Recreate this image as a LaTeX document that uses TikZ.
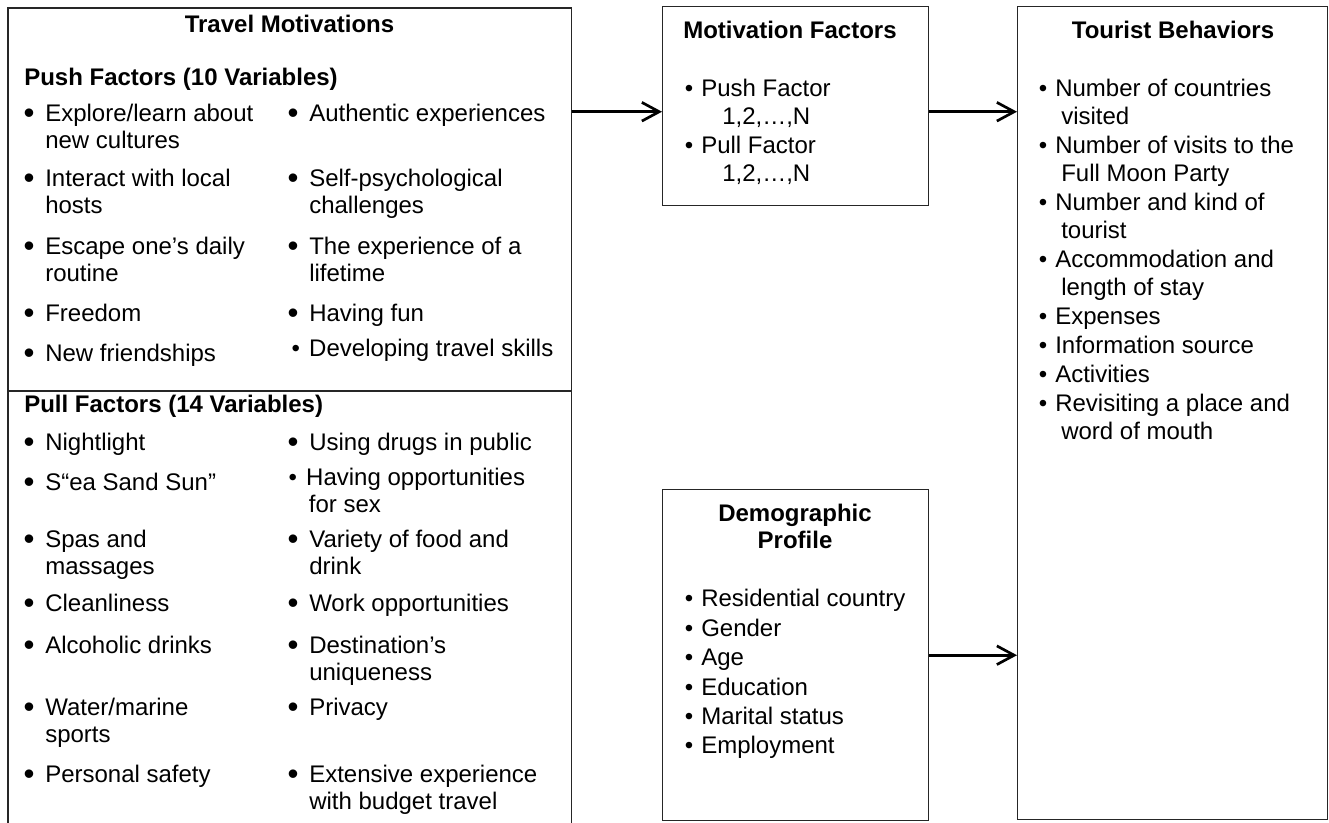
\documentclass[tikz,border=0pt]{standalone}
\usepackage{fontspec}
\setmainfont{Liberation Sans}
\usetikzlibrary{arrows.meta,calc}
\tikzset{
  box/.style={draw=none, inner sep=0pt, anchor=north west},
  boxline/.style={draw=black!85, line width=1.1pt},
  arr/.style={line width=2pt, -{Straight Barb[length=13pt,width=14pt]}},
  ttl/.style={font=\fontsize{18pt}{20.25pt}\selectfont\bfseries, inner sep=0pt},
  itmL/.style={font=\fontsize{18pt}{20.25pt}\selectfont, inner sep=0pt, anchor=north west, align=left},
  itmR/.style={font=\fontsize{18pt}{21pt}\selectfont, inner sep=0pt, anchor=north west, align=left},
}
\newcommand\bulL{\strut\llap{\raisebox{-1.6pt}{\scalebox{1.3}{\textbullet}}\hspace{8pt}}}
\newcommand\bulS{\strut\llap{\textbullet\hspace{7pt}}}
\newcommand\bulR{\strut\llap{\textbullet\hspace{6pt}}}
% left-box item: name, x, centre y of first line, text
\newcommand\LI[4]{\node[itmL] (#1) at (#2,#3-10.9) {\bulL #4};}
\newcommand\LS[4]{\node[itmL] (#1) at (#2,#3-10.9) {\bulS #4};}
\newcommand\RI[4]{\node[itmR] (#1) at (#2,#3-11.6) {\bulR #4};}
\begin{document}
\begin{tikzpicture}[x=0.75pt,y=-0.75pt]
\useasboundingbox (0,0) rectangle (1329,823);

% ---------- boxes ----------
\node[box, minimum width={563*0.75pt}, minimum height={815*0.75pt}] (tm) at (8,8) {};
\draw[boxline] (tm.south west) |- (tm.north east) -- (tm.south east);
\coordinate (div) at (0,391);
\draw[boxline] (tm.west |- div) -- (tm.east |- div);

\node[box, draw=black!85, line width=1.1pt, minimum width={266*0.75pt}, minimum height={199*0.75pt}] (mf) at (662,6) {};
\node[box, draw=black!85, line width=1.1pt, minimum width={310*0.75pt}, minimum height={813*0.75pt}] (tb) at (1017,6) {};
\node[box, draw=black!85, line width=1.1pt, minimum width={266*0.75pt}, minimum height={331*0.75pt}] (dp) at (662,489) {};

% ---------- arrows ----------
\coordinate (r1) at ($(mf.west)+(0,5.5)$);
\draw[arr] (tm.east |- r1) -- (r1);
\draw[arr] (mf.east |- r1) -- (tb.west |- r1);
\draw[arr] (dp.east) -- (tb.west |- dp.east);

% ---------- Travel Motivations ----------
\node[ttl, anchor=base] (tmt) at (289.5,32.5) {Travel Motivations};
\node[ttl, anchor=base west] (push) at (24,86) {Push Factors (10 Variables)};
\node[ttl, anchor=base west] (pull) at (24,413) {Pull Factors (14 Variables)};

\LI{pa1}{45}{113}{Explore/learn about\\new cultures}
\LI{pa2}{45}{178}{Interact with local\\hosts}
\LI{pa3}{45}{246}{Escape one’s daily\\routine}
\LI{pa4}{45}{313}{Freedom}
\LI{pa5}{45}{353}{New friendships}
\LI{pb1}{309}{113}{Authentic experiences}
\LI{pb2}{309}{178}{Self-psychological\\challenges}
\LI{pb3}{309}{246}{The experience of a\\lifetime}
\LI{pb4}{309}{313}{Having fun}
\LS{pb5}{309}{348}{Developing travel skills}

\LI{qa1}{45}{442}{Nightlight}
\LI{qa2}{45}{482}{S“ea Sand Sun”}
\LI{qa3}{45}{539}{Spas and\\massages}
\LI{qa4}{45}{603}{Cleanliness}
\LI{qa5}{45}{645}{Alcoholic drinks}
\LI{qa6}{45}{707}{Water/marine\\sports}
\LI{qa7}{45}{774}{Personal safety}
\LI{qb1}{309}{442}{Using drugs in public}
\LS{qb2}{306}{477}{Having opportunities\\\hspace*{2pt}for sex}
\LI{qb3}{309}{539}{Variety of food and\\drink}
\LI{qb4}{309}{603}{Work opportunities}
\LI{qb5}{309}{645}{Destination’s\\uniqueness}
\LI{qb6}{309}{707}{Privacy}
\LI{qb7}{309}{774}{Extensive experience\\with budget travel}

% ---------- Motivation Factors ----------
\node[ttl, anchor=base west] (mft) at (683,39) {Motivation Factors};
\RI{m1}{701}{88}{Push Factor\\\hspace*{15.75pt}1,2,…,N}
\RI{m2}{701}{145}{Pull Factor\\\hspace*{15.75pt}1,2,…,N}

% ---------- Tourist Behaviors ----------
\node[ttl, anchor=base] (tbt) at (1173,39) {Tourist Behaviors};
\RI{t1}{1055}{88}{Number of countries\\\hspace*{4.5pt}visited}
\RI{t2}{1055}{145}{Number of visits to the\\\hspace*{4.5pt}Full Moon Party}
\RI{t3}{1055}{202}{Number and kind of\\\hspace*{4.5pt}tourist}
\RI{t4}{1055}{259}{Accommodation and\\\hspace*{4.5pt}length of stay}
\RI{t5}{1055}{316}{Expenses}
\RI{t6}{1055}{345}{Information source}
\RI{t7}{1055}{374}{Activities}
\RI{t8}{1055}{403}{Revisiting a place and\\\hspace*{4.5pt}word of mouth}

% ---------- Demographic Profile ----------
\node[ttl, anchor=base] (dpt1) at (795,522) {Demographic};
\node[ttl, anchor=base] (dpt2) at (795,549) {Profile};
\RI{d1}{701}{598}{Residential country}
\RI{d2}{701}{628}{Gender}
\RI{d3}{701}{657}{Age}
\RI{d4}{701}{687}{Education}
\RI{d5}{701}{716}{Marital status}
\RI{d6}{701}{745}{Employment}
\end{tikzpicture}
\end{document}
